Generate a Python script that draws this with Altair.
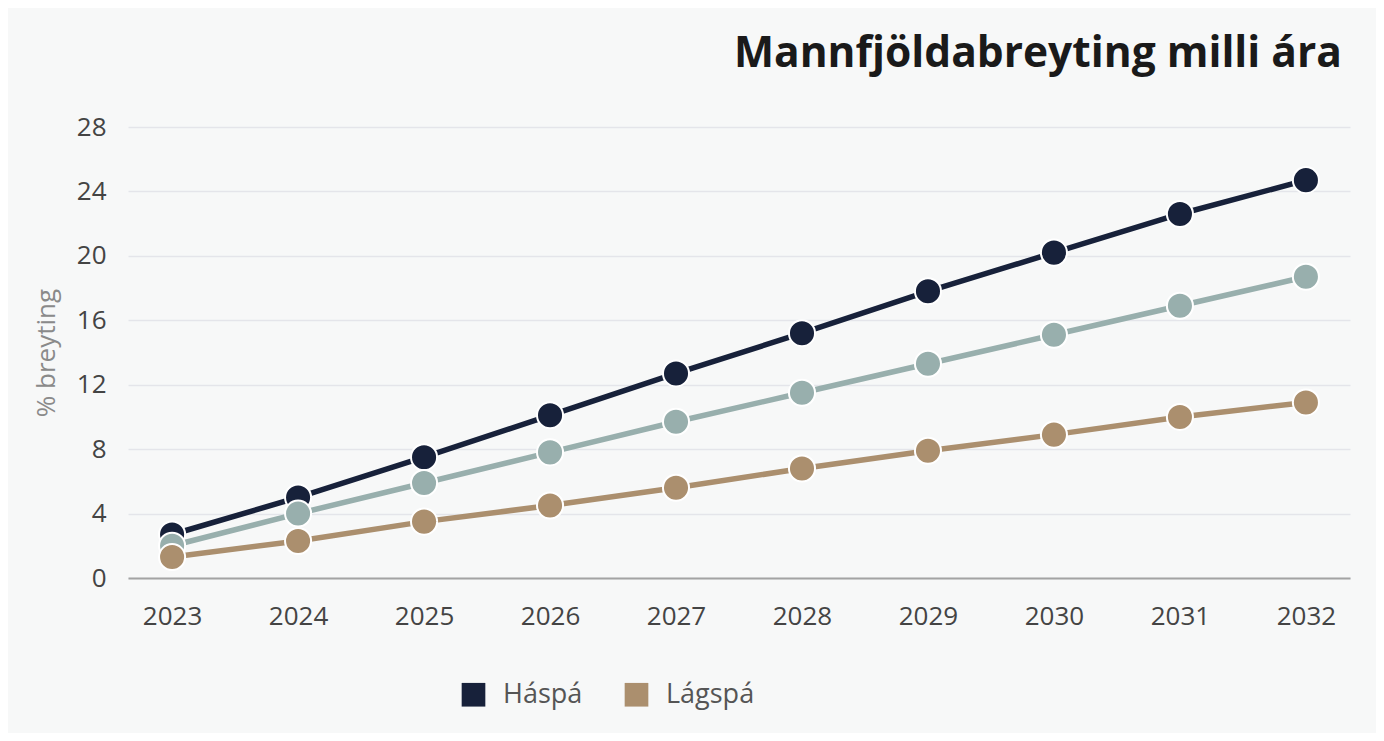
import altair as alt
import pandas as pd

years = ["2023", "2024", "2025", "2026", "2027", "2028", "2029", "2030", "2031", "2032"]
haspa = [2.7, 5.0, 7.5, 10.1, 12.7, 15.2, 17.8, 20.2, 22.6, 24.7]
midspa = [2.0, 4.0, 5.9, 7.8, 9.7, 11.5, 13.3, 15.1, 16.9, 18.7]
lagspa = [1.3, 2.3, 3.5, 4.5, 5.6, 6.8, 7.9, 8.9, 10.0, 10.9]

series_names = ["Háspá", "Miðspá", "Lágspá"]
series_values = [haspa, midspa, lagspa]
series_colors = ["#17213a", "#98afad", "#ab8f6e"]
legend_values = ["Háspá", "Lágspá"]

rows = []
for name, vals in zip(series_names, series_values):
    for y, v in zip(years, vals):
        rows.append({"ár": y, "spá": name, "breyting": v})
df = pd.DataFrame(rows)

FONT = "Open Sans"

color = alt.Color(
    "spá:N",
    scale=alt.Scale(domain=series_names, range=series_colors),
    legend=alt.Legend(
        title=None,
        values=legend_values,
        orient="none",
        legendX=332,
        legendY=554,
        direction="horizontal",
        symbolType="square",
        symbolSize=560,
        symbolStrokeWidth=0,
        labelFontSize=27,
        labelColor="#555555",
        labelFont=FONT,
        columnPadding=40,
        labelOffset=16,
    ),
)

x = alt.X(
    "ár:O",
    scale=alt.Scale(type="point", padding=0.35),
    axis=alt.Axis(
        title=None,
        labelAngle=0,
        ticks=False,
        domain=True,
        domainColor="#a3a3a3",
        domainWidth=2,
        labelFontSize=26,
        labelColor="#444444",
        labelFont=FONT,
        labelPadding=25,
        grid=False,
    ),
)
y = alt.Y(
    "breyting:Q",
    scale=alt.Scale(domain=[0, 28], nice=False),
    axis=alt.Axis(
        title="% breyting",
        values=[0, 4, 8, 12, 16, 20, 24, 28],
        ticks=False,
        domain=False,
        grid=True,
        gridColor="#e4e5ea",
        gridWidth=1.5,
        labelFontSize=26,
        labelColor="#444444",
        labelFont=FONT,
        labelPadding=22,
        titleFontSize=26,
        titleFont=FONT,
        titleFontWeight="normal",
        titleColor="#8a8a8a",
        titlePadding=17,
    ),
)

layers = []
for name in series_names:
    base = alt.Chart(df).transform_filter(alt.datum["spá"] == name)
    layers.append(base.mark_line(strokeWidth=5.5).encode(x=x, y=y, color=color))
    layers.append(
        base.mark_circle(size=680, opacity=1, stroke="white", strokeWidth=2).encode(
            x=x, y=y, color=color
        )
    )

chart = (
    alt.layer(*layers)
    .properties(
        width=1222,
        height=451,
        autosize=alt.AutoSizeParams(type="none"),
        padding={"left": 120, "top": 119, "right": 26, "bottom": 155},
        background="#f7f8f8",
        title=alt.TitleParams(
            "Mannfjöldabreyting milli ára",
            anchor="end",
            font=FONT,
            fontSize=42.5,
            fontWeight="bold",
            color="#1a1a1a",
            baseline="alphabetic",
            offset=5,
            dx=-8,
        ),
    )
    .configure_view(stroke=None)
)

chart.save("out.html", embed_options={"renderer": "svg", "actions": False})
